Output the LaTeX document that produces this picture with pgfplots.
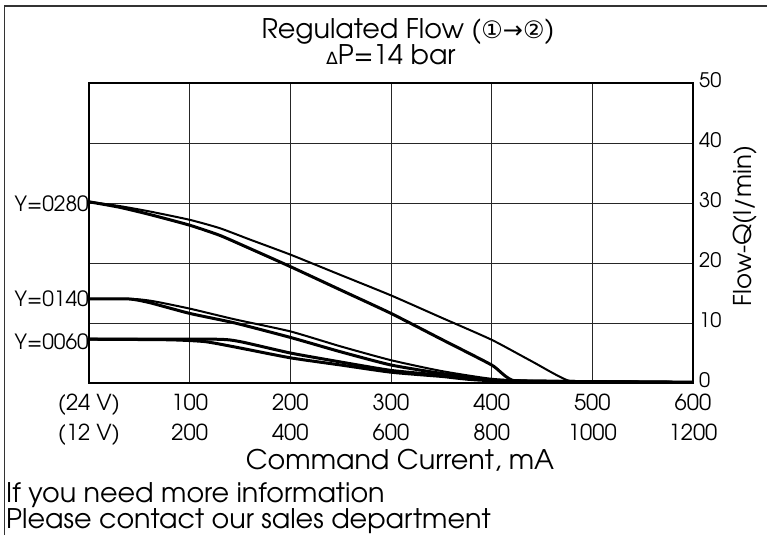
\documentclass[border=0pt]{standalone}
\usepackage{pgfplots}
\pgfplotsset{compat=1.18}
\usepackage{fontspec}
\setmainfont{texgyreadventor}[Extension=.otf, UprightFont=*-regular, BoldFont=*-bold]
\newfontfamily\symfont{DejaVu Sans}

\newcommand\bigtext{\fontsize{27}{32}\selectfont}
\newcommand\ticktext{\fontsize{22}{26}\selectfont}

\begin{document}
\begin{tikzpicture}
\useasboundingbox (-89pt,-152pt) rectangle (678pt,383pt);
% frame (left and top edges only are visible)
\draw[black!80, line width=1.6pt] (-84.5pt,-152pt) -- (-84.5pt,377pt) -- (678pt,377pt);

\node[anchor=base, inner sep=0] at (319pt,344pt)
  {\bigtext Regulated Flow ({\symfont\fontsize{24}{24}\selectfont ①→②})};
\node[anchor=base, inner sep=0] at (302pt,318pt)
  {\bigtext {\symfont\fontsize{17}{17}\selectfont ∆}P=14 bar};

\begin{axis}[
    at={(0pt,0pt)}, anchor=south west,
    scale only axis,
    width=604pt, height=300pt,
    xmin=0, xmax=600, ymin=0, ymax=50,
    xtick={0,100,...,600},
    xticklabels={(24 V),100,200,300,400,500,600},
    extra x ticks={0,100,...,600},
    extra x tick labels={(12 V),200,400,600,800,1000,1200},
    extra x tick style={grid=none, xticklabel style={yshift=-30pt}},
    ytick={0,10,...,50},
    yticklabel pos=right,
    grid=major,
    major grid style={black!85, line width=0.9pt},
    axis line style={black, line width=1.1pt},
    major tick length=0pt,
    xticklabel style={anchor=base, inner sep=0pt, yshift=-27pt, font=\ticktext},
    yticklabel style={anchor=west, inner sep=0pt, xshift=6pt, yshift=3pt,
      font=\fontsize{20}{24}\selectfont},
    /pgf/number format/assume math mode=true,
    clip=false,
    thin/.style={black, line width=2pt, smooth, tension=0.35},
    thick/.style={black, line width=3pt, smooth, tension=0.35},
]
% Y=0280
\addplot[thin] coordinates {(0,30.2) (30,29.5) (60,28.6) (100,27.2) (130,25.8)
  (160,23.9) (200,21.4) (250,18.0) (300,14.6) (350,10.9) (400,7.2) (440,3.6)
  (478,0.3) (520,0.2) (600,0.1)};
\addplot[thick] coordinates {(0,30.2) (30,29.3) (60,28.1) (100,26.3) (130,24.6)
  (160,22.4) (200,19.4) (250,15.5) (300,11.6) (350,7.3) (400,3.0) (424,0.3)
  (500,0.2) (600,0.1)};
% Y=0140
\addplot[thin] coordinates {(0,14) (45,14) (65,13.6) (100,12.4) (145,10.6) (200,8.6)
  (250,6.1) (300,3.8) (350,2.0) (400,0.7) (450,0.3) (600,0.1)};
\addplot[thick] coordinates {(0,14) (40,14) (60,13.4) (100,11.6) (145,10.0) (200,7.6)
  (250,5.2) (300,3.0) (350,1.6) (400,0.5) (430,0.3) (600,0.1)};
% Y=0060
\addplot[thick] coordinates {(0,7.3) (125,7.3) (150,6.9) (200,5.0) (250,3.5)
  (300,2.1) (350,1.3) (400,0.5) (450,0.3) (600,0.1)};
\addplot[thick] coordinates {(0,7.3) (80,7.2) (115,6.9) (145,6.0) (200,4.2)
  (250,3.0) (300,1.8) (350,1.1) (400,0.4) (600,0.1)};

\node[anchor=east, inner sep=0pt, font=\fontsize{21}{25}\selectfont] at (axis cs:0,29.8) {Y=0280};
\node[anchor=east, inner sep=0pt, font=\fontsize{21}{25}\selectfont] at (axis cs:0,14) {Y=0140};
\node[anchor=east, inner sep=0pt, font=\fontsize{21}{25}\selectfont] at (axis cs:0,6.8) {Y=0060};
\end{axis}

\node[rotate=90, inner sep=0, font=\fontsize{24.5}{29}\selectfont] at (656pt,157pt) {Flow-Q(l/min)};
\node[anchor=base, inner sep=0, font=\bigtext] at (311pt,-86pt) {Command Current, mA};
\node[anchor=base west, inner sep=0, font=\bigtext] at (-83pt,-119pt) {If you need more information};
\node[anchor=base west, inner sep=0, font=\bigtext] at (-83pt,-145pt) {Please contact our sales department};
\end{tikzpicture}
\end{document}
